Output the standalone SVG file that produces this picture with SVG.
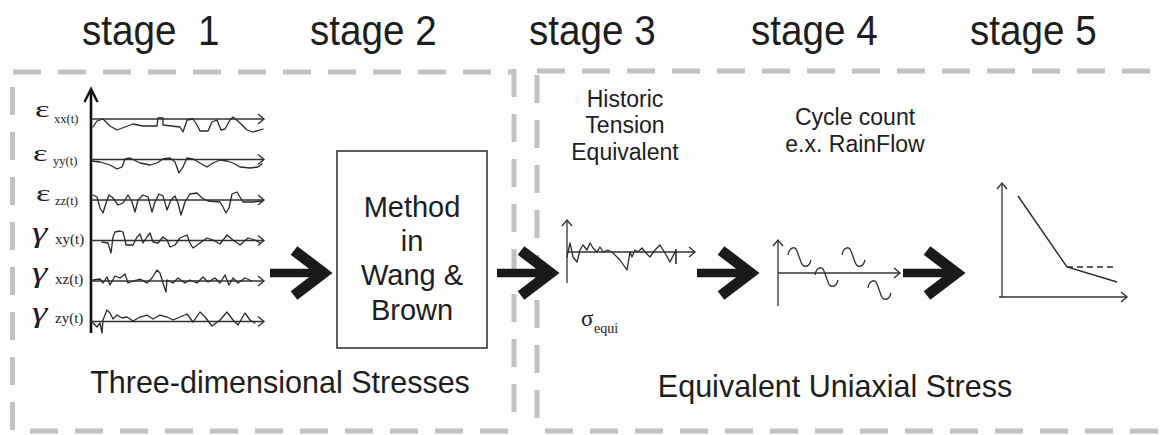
<svg xmlns="http://www.w3.org/2000/svg" width="1163" height="435" viewBox="0 0 1163 435">
  <defs>
    <style>
      .sans { font-family: "Liberation Sans", Arial, sans-serif; fill: #1e1e1e; }
      .serif { font-family: "Liberation Serif", "Times New Roman", serif; fill: #1e1e1e; }
      .stage { font-size: 42px; }
      .title { font-size: 30.5px; text-anchor: middle; }
      .note { font-size: 23px; text-anchor: middle; }
      .box-label { font-size: 29px; text-anchor: middle; }
      .frame { fill: none; stroke: #c2c2c2; stroke-width: 5; stroke-dasharray: 28 17; }
      .axis { fill: none; stroke: #333; stroke-width: 1.3; marker-end: url(#open-head); }
      .wave { fill: none; stroke: #2a2a2a; stroke-width: 1.3; stroke-linejoin: round; stroke-linecap: round; }
    </style>
    <marker id="open-head" viewBox="-8 -7 10 14" markerWidth="10" markerHeight="14" refX="0" refY="0" markerUnits="userSpaceOnUse" orient="auto">
      <path d="M-6,-5 L0,0 L-6,5" fill="none" stroke="#333" stroke-width="1.4"/>
    </marker>
    <!-- heavy chevron arrow, tip at origin -->
    <g id="chevron">
      <line x1="-64" y1="0" x2="-14" y2="0" stroke="#1a1a1a" stroke-width="8.5"/>
      <path d="M-40,-22.5 L-10.5,0 L-40,22.5" fill="none" stroke="#1a1a1a" stroke-width="11" stroke-linejoin="miter" stroke-miterlimit="6"/>
    </g>
    <path id="squiggle" d="M0,8 C1,1 7,-2 9,4 L13,15 C15,21 21,21 23,13" fill="none" stroke="#333" stroke-width="1.3"/>
  </defs>

  <rect width="1163" height="435" fill="#fdfdfd"/>

  <!-- stage headings (narrow setting) -->
  <g id="headings">
    <text class="sans stage" transform="translate(82,45) scale(0.92,1)" xml:space="preserve">stage  1</text>
    <text class="sans stage" transform="translate(310,45) scale(0.92,1)">stage 2</text>
    <text class="sans stage" transform="translate(529,45) scale(0.92,1)">stage 3</text>
    <text class="sans stage" transform="translate(751,45) scale(0.92,1)">stage 4</text>
    <text class="sans stage" transform="translate(970,45) scale(0.92,1)">stage 5</text>
  </g>

  <!-- dashed frames -->
  <g id="frame-3d">
    <path class="frame" d="M13,72 H514"/>
    <path class="frame" d="M12.5,87 V432"/>
    <path class="frame" d="M30,431 H514"/>
    <path class="frame" d="M514,69 V420"/>
  </g>
  <g id="frame-uniaxial">
    <path class="frame" d="M537,71 H1163"/>
    <path class="frame" d="M537,75 V432"/>
    <path class="frame" d="M545,431 H1163"/>
  </g>

  <!-- stage 1: strain histories -->
  <g id="strain-histories">
    <path d="M91,333 V90" fill="none" stroke="#111" stroke-width="2.6"/>
    <path d="M84.5,102 L91,89 L97.5,102" fill="none" stroke="#111" stroke-width="2.4"/>

    <line class="axis" x1="91" y1="119" x2="264" y2="119"/>
    <line class="axis" x1="91" y1="159.5" x2="264" y2="159.5"/>
    <line class="axis" x1="91" y1="200" x2="264" y2="200"/>
    <line class="axis" x1="91" y1="240.5" x2="264" y2="240.5"/>
    <line class="axis" x1="91" y1="281" x2="264" y2="281"/>
    <line class="axis" x1="91" y1="321.5" x2="264" y2="321.5"/>

    <polyline class="wave" points="93,127 97,121 103,119 110,126 117,130 125,127 133,124 143,126 157,126 158,118 163,118 163,125 180,127 183,132 187,120 193,119 197,125 200,131 208,131 212,122 217,120 221,130 225,129 230,120 233,117 240,123 247,130 253,132 263,129"/>
    <polyline class="wave" points="92,161 100,162 110,165 117,169 122,167 125,159 130,158 140,163 150,165 157,163 163,159 170,158 175,162 179,173 183,167 187,158 193,159 200,163 207,167 213,163 220,160 227,161 233,163 240,167 250,168 258,167 262,164"/>
    <polyline class="wave" points="93,195 97,197 100,208 103,213 106,203 109,195 113,198 118,205 123,203 128,195 132,202 135,212 138,200 143,195 148,197 152,212 155,202 159,194 163,196 167,210 171,200 175,196 178,203 181,215 185,202 190,194 197,193 202,198 208,201 220,202 223,207 226,213 229,208 232,194 237,192 240,197 243,202 253,202 262,201"/>
    <polyline class="wave" points="102,242 108,243 111,253 113,237 115,232 120,231 123,232 125,240 126,245 133,245 137,237 140,234 143,243 147,237 150,233 153,242 158,243 163,237 167,240 170,247 175,245 180,238 187,235 190,243 193,248 200,243 207,238 213,240 220,244 227,235 233,240 240,245 248,238 255,240 260,243"/>
    <polyline class="wave" points="93,280 100,279 103,283 107,277 110,285 115,276 120,278 125,274 128,283 133,281 140,279 147,283 152,278 157,270 160,273 163,283 166,292 167,280 173,283 178,278 185,283 190,280 197,283 203,277 208,282 215,278 220,283 225,275 229,285 233,278 238,283 245,278 252,281"/>
    <polyline class="wave" points="92,322 97,327 100,323 102,333 103,320 107,310 110,313 113,319 117,315 122,318 127,317 133,321 140,317 147,315 153,319 160,315 167,317 173,320 180,317 187,314 193,322 200,312 205,317 212,326 220,320 227,312 233,320 238,325 245,313 250,320 255,323"/>

    <g class="serif">
      <text transform="translate(35,117) scale(1.45,1)" font-size="24">ε</text>
      <text x="54" y="123" font-size="12.5">xx(t)</text>
      <text transform="translate(33,161) scale(1.45,1)" font-size="24">ε</text>
      <text x="53" y="165" font-size="12.5">yy(t)</text>
      <text transform="translate(36,201) scale(1.45,1)" font-size="24">ε</text>
      <text x="55" y="205" font-size="12.5">zz(t)</text>
      <text transform="translate(32,242) scale(1.3,1)" font-size="30" font-style="italic">γ</text>
      <text x="55" y="244" font-size="15">xy(t)</text>
      <text transform="translate(32,282) scale(1.3,1)" font-size="30" font-style="italic">γ</text>
      <text x="55" y="284" font-size="15">xz(t)</text>
      <text transform="translate(32,322) scale(1.3,1)" font-size="30" font-style="italic">γ</text>
      <text x="55" y="323" font-size="15">zy(t)</text>
    </g>
  </g>

  <!-- stage 2: Wang & Brown method -->
  <g id="wang-brown">
    <rect x="337" y="151" width="150" height="197" fill="none" stroke="#2a2a2a" stroke-width="1.5"/>
    <text class="sans box-label" x="412" y="217">Method</text>
    <text class="sans box-label" x="412" y="251">in</text>
    <text class="sans box-label" x="412" y="285">Wang &amp;</text>
    <text class="sans box-label" x="412" y="320">Brown</text>
  </g>

  <!-- stage 3: equivalent stress history -->
  <g id="equivalent-history">
    <text class="sans note" x="625" y="107">Historic</text>
    <text class="sans note" x="625" y="133">Tension</text>
    <text class="sans note" x="625" y="160">Equivalent</text>
    <line class="axis" x1="567" y1="283" x2="567" y2="220"/>
    <line class="axis" x1="567" y1="252" x2="695" y2="252"/>
    <polyline class="wave" points="567,257 570,243 573,257 577,262 580,250 583,245 587,250 590,243 593,248 597,252 600,247 603,252 608,250 613,253 620,260 627,270 630,252 632,257 635,250 638,252 642,248 645,252 650,257 655,250 660,245 665,253 670,262 675,252"/>
    <line x1="676" y1="249" x2="676" y2="264" stroke="#2a2a2a" stroke-width="1.6"/>
    <text class="serif" x="581" y="326" font-size="23">σ</text>
    <text class="serif" x="594" y="333" font-size="14">equi</text>
  </g>

  <!-- stage 4: cycle counting -->
  <g id="cycle-count">
    <text class="sans note" x="855" y="125">Cycle count</text>
    <text class="sans note" x="855" y="152">e.x. RainFlow</text>
    <line class="axis" x1="778" y1="306" x2="778" y2="240"/>
    <line class="axis" x1="778" y1="273" x2="900" y2="273"/>
    <use href="#squiggle" x="788" y="247"/>
    <use href="#squiggle" x="815" y="267"/>
    <use href="#squiggle" x="842" y="247"/>
    <use href="#squiggle" x="868" y="280"/>
  </g>

  <!-- stage 5: S-N curve -->
  <g id="sn-curve">
    <line class="axis" x1="1002" y1="297" x2="1002" y2="183"/>
    <line class="axis" x1="999" y1="297" x2="1127" y2="297"/>
    <polyline points="1018,196 1067,267 1117,282" fill="none" stroke="#2a2a2a" stroke-width="1.4"/>
    <line x1="1067" y1="267" x2="1117" y2="267" stroke="#2a2a2a" stroke-width="1.4" stroke-dasharray="6 4"/>
  </g>

  <!-- panel titles -->
  <g id="panel-titles">
    <text class="sans title" x="280" y="393">Three-dimensional Stresses</text>
    <text class="sans title" x="835" y="397">Equivalent Uniaxial Stress</text>
  </g>

  <!-- flow arrows between stages -->
  <g id="connectors">
    <use href="#chevron" transform="translate(334,273)"/>
    <use href="#chevron" transform="translate(561,273)"/>
    <use href="#chevron" transform="translate(761,273)"/>
    <use href="#chevron" transform="translate(967,273)"/>
  </g>
</svg>
